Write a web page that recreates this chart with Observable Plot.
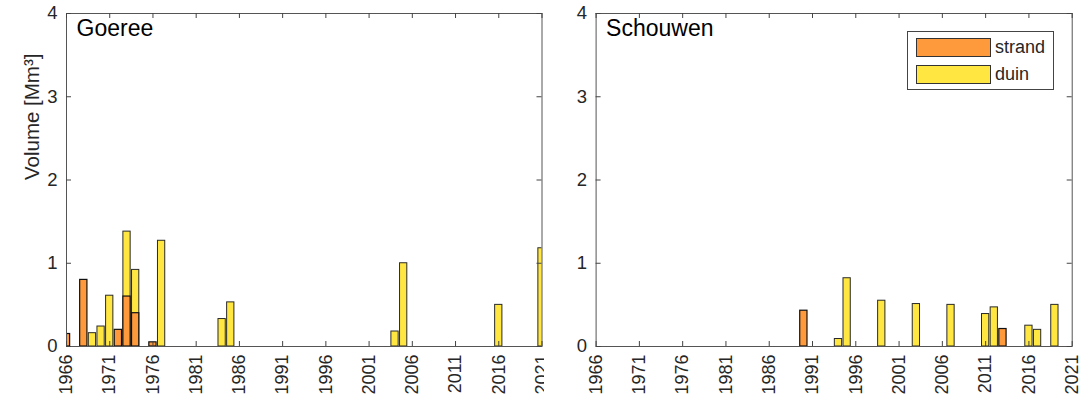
<!DOCTYPE html>
<html>
<head>
<meta charset="utf-8">
<script src="https://cdn.jsdelivr.net/npm/d3@7"></script>
<script src="https://cdn.jsdelivr.net/npm/@observablehq/plot@0.6"></script>
<style>
  html, body { margin: 0; padding: 0; background: white; }
  #wrap { position: relative; width: 1088px; height: 402px; overflow: hidden; font-family: "Liberation Sans", Arial, sans-serif; }
  .panel { position: absolute; top: 0; }
  #banner { position: absolute; left: 826px; top: -47px; font: bold 60px "Liberation Sans", Arial, sans-serif; color: #2c4fc4; letter-spacing: 6px; white-space: nowrap; }
  #legend { position: absolute; left: 907px; top: 31px; width: 147px; height: 59px; border: 1px solid #444; background: white; box-sizing: border-box; }
  .sw { position: absolute; left: 8px; width: 75px; height: 19px; border: 1px solid #333; box-sizing: border-box; }
  .lt { position: absolute; left: 87px; font-size: 18px; line-height: 19px; color: #262626; }
</style>
</head>
<body>
<div id="wrap">
  <div id="banner">Goeree</div>
  <div class="panel" id="left" style="left:0px"></div>
  <div class="panel" id="right" style="left:544px"></div>
  <div id="legend">
    <div class="sw" style="top:6px;background:#ff9a3c"></div><div class="lt" style="top:6px">strand</div>
    <div class="sw" style="top:33px;background:#ffe640"></div><div class="lt" style="top:33px">duin</div>
  </div>
</div>
<script>
// Goeree
const goereeStrandYears = [1966, 1968, 1972, 1973, 1974, 1976];
const goereeStrandValues = [0.15, 0.80, 0.20, 0.60, 0.40, 0.05];
const goereeDuinYears = [1969, 1970, 1971, 1973, 1974, 1977, 1984, 1985, 2004, 2005, 2016, 2021];
const goereeDuinValues = [0.16, 0.24, 0.61, 1.38, 0.92, 1.27, 0.33, 0.53, 0.18, 1.00, 0.50, 1.18];
// Schouwen
const schouwenStrandYears = [1990, 2013];
const schouwenStrandValues = [0.43, 0.21];
const schouwenDuinYears = [1994, 1995, 1999, 2003, 2007, 2011, 2012, 2016, 2017, 2019];
const schouwenDuinValues = [0.09, 0.82, 0.55, 0.51, 0.50, 0.39, 0.47, 0.25, 0.20, 0.50];
// ticks
const xTicks = [1966, 1971, 1976, 1981, 1986, 1991, 1996, 2001, 2006, 2011, 2016, 2021];
const yTicks = [0, 1, 2, 3, 4];
const seriesNames = ["strand", "duin"];
const panelNames = ["Goeree", "Schouwen"];
const yLabel = "Volume [Mm³]";

const colors = {strand: "#ff9a3c", duin: "#ffe640"};
const half = 0.42;

function rows(years, values) { return years.map((y, i) => ({year: y, value: values[i]})); }

function panel(name, strand, duin, ml, mr, withYLabel) {
  const W = 544, H = 402, mt = 13, mb = 56;
  const fw = W - ml - mr, fh = H - mt - mb, tl = 5;
  const barOpts = (fill) => ({
    x1: d => d.year - half, x2: d => d.year + half, y1: 0, y2: "value",
    fill, stroke: "#2a2a2a", strokeWidth: 1, clip: true
  });
  const tickStroke = "#444";
  const marks = [
    Plot.rect(duin, barOpts(colors.duin)),
    Plot.rect(strand, {...barOpts(colors.strand), stroke: "#111", strokeWidth: 1.2}),
    Plot.frame({stroke: "#555", strokeWidth: 1}),
    Plot.tickX(xTicks, {x: d => d, insetTop: fh - tl, stroke: tickStroke}),
    Plot.tickX(xTicks, {x: d => d, insetBottom: fh - tl, stroke: tickStroke}),
    Plot.tickY(yTicks, {y: d => d, insetRight: fw - tl, stroke: tickStroke}),
    Plot.tickY(yTicks, {y: d => d, insetLeft: fw - tl, stroke: tickStroke}),
    Plot.axisX(xTicks, {tickSize: 0, tickPadding: 8, tickRotate: -90, tickFormat: d => String(d), label: null, fontSize: 18, fill: "#262626"}),
    Plot.axisY(yTicks, {tickSize: 0, tickPadding: 9, tickFormat: d => String(d), label: null, fontSize: 18.5, fill: "#262626"}),
    Plot.text([name], {frameAnchor: "top-left", dx: 10, dy: 6, textAnchor: "start", lineAnchor: "top", fontSize: 23, fill: "black"})
  ];
  if (withYLabel) {
    marks.push(Plot.text([yLabel], {frameAnchor: "left", dx: -34, rotate: -90, fontSize: 20.5, fill: "#262626"}));
  }
  return Plot.plot({
    width: W, height: H,
    marginLeft: ml, marginRight: mr, marginTop: mt, marginBottom: mb,
    style: {fontFamily: "'Liberation Sans', Arial, sans-serif", fontSize: "18px", color: "#262626", background: "white", overflow: "visible"},
    x: {domain: [1966, 2021]},
    y: {domain: [0, 4]},
    marks
  });
}

document.getElementById("left").appendChild(
  panel(panelNames[0], rows(goereeStrandYears, goereeStrandValues), rows(goereeDuinYears, goereeDuinValues), 66, 2.5, true));
document.getElementById("right").appendChild(
  panel(panelNames[1], rows(schouwenStrandYears, schouwenStrandValues), rows(schouwenDuinYears, schouwenDuinValues), 51.6, 16.3, false));
</script>
</body>
</html>
